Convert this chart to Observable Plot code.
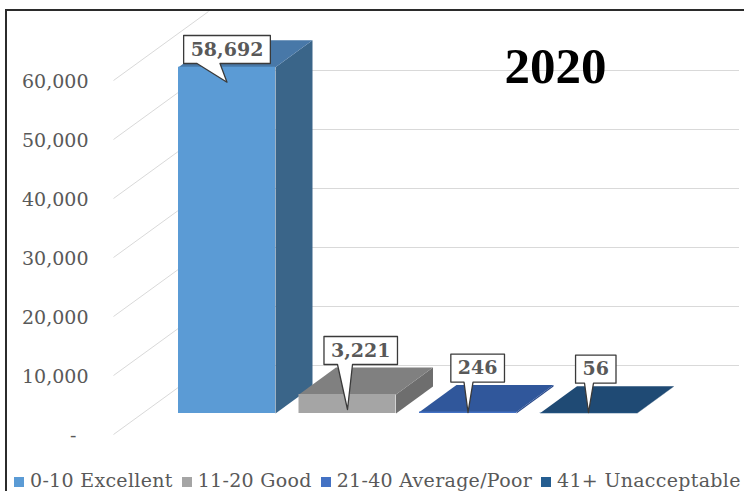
<!DOCTYPE html>
<html><head><meta charset="utf-8">
<script src="https://cdn.jsdelivr.net/npm/d3@7"></script>
<script src="https://cdn.jsdelivr.net/npm/@observablehq/plot@0.6"></script>
<style>
html,body{margin:0;padding:0;background:#fff;overflow:hidden;}
#wrap{position:relative;width:744px;height:491px;overflow:hidden;background:#fff;}
#chart{position:absolute;left:0;top:0;}
#border{position:absolute;left:5px;top:9px;width:800px;height:600px;border-left:2px solid #2b2b2b;border-top:2px solid #2b2b2b;pointer-events:none;}
#legend{position:absolute;left:14px;top:470px;display:flex;align-items:center;font-family:"DejaVu Serif";font-size:19px;line-height:20px;letter-spacing:0.3px;color:#595959;white-space:nowrap;}
.item{display:flex;align-items:center;margin-right:9px;}
.sw{width:10px;height:10px;margin-right:6px;margin-top:3px;}
</style></head>
<body><div id="wrap"><div id="chart"></div><div id="legend"></div><div id="border"></div></div>
<script>
// ---- data ----
const categories = ["0-10 Excellent", "11-20 Good", "21-40 Average/Poor", "41+ Unacceptable"];
const values = [58692, 3221, 246, 56];
const labels = ["58,692", "3,221", "246", "56"];
const yTicks = [0, 10000, 20000, 30000, 40000, 50000, 60000];
const title = "2020";

// ---- styles ----
const frontColors = ["#5B9BD5", "#A5A5A5", "#4472C4", "#255E91"];
const topColors   = ["#4878A8", "#808080", "#30579B", "#1F4A74"];
const sideColors  = ["#3A6589", "#6E6E6E", "#29498A", "#193D60"];
const anchorFrac = [0.5, 0.32, 0.32, 0.32];
const tailBase = [[-30, -7], [-10, 5], [-4, 5], [-4, 5]];

// ---- geometry ----
const W = 744, H = 462;
const X0PX = 226.5, XSTEP = 120.5, BASEPX = 413, YMAX = 70000;
const ky = BASEPX / YMAX;
const xu = px => (px - X0PX) / XSTEP;
const yPx = v => BASEPX - v * ky;
const yu = px => (BASEPX - px) / ky;
const hw = 48.5 / XSTEP, dX = 37 / XSTEP, dY = 27 / ky;

const idx = categories.map((_, i) => i);
const fronts = idx.map(i => ({x1: i - hw, x2: i + hw, y1: 0, y2: values[i], fill: frontColors[i]}));
const sides = [], tops = [];
idx.forEach(i => {
  const v = values[i], a = i - hw, b = i + hw;
  [[b, 0], [b, v], [b + dX, v + dY], [b + dX, dY], [b, 0]]
    .forEach(([x, y]) => sides.push({id: "s" + i, x, y, fill: sideColors[i]}));
  [[a, v], [b, v], [b + dX, v + dY], [a + dX, v + dY], [a, v]]
    .forEach(([x, y]) => tops.push({id: "t" + i, x, y, fill: topColors[i]}));
});

const ctx = document.createElement("canvas").getContext("2d");
ctx.font = "bold 19px 'DejaVu Serif'";
const callPolys = [], callText = [];
idx.forEach(i => {
  const v = values[i];
  const w = ctx.measureText(labels[i]).width + 14, h = 28;
  const tipX = X0PX + XSTEP * i;
  const tipY = Math.min(yPx(v) + 15, BASEPX - 1);
  const backTop = yPx(v) - 27;
  const top = Math.max(backTop - 31, 35), bottom = top + h;
  const left = tipX - anchorFrac[i] * w, right = left + w;
  const [bl, br] = tailBase[i].map(d => tipX + d);
  [[left, top], [right, top], [right, bottom], [br, bottom], [tipX, tipY], [bl, bottom], [left, bottom], [left, top]]
    .forEach(([px, py]) => callPolys.push({id: i, x: xu(px), y: yu(py)}));
  callText.push({x: xu((left + right) / 2), y: yu((top + bottom) / 2), text: labels[i]});
});

const grid = yTicks.filter(v => v > 0);

const chart = Plot.plot({
  width: W, height: H,
  marginLeft: X0PX - 0.5 * XSTEP, marginRight: W - (X0PX + 3.5 * XSTEP),
  marginTop: 0, marginBottom: H - BASEPX,
  x: {domain: [-0.5, 3.5], axis: null},
  y: {domain: [0, YMAX]},
  color: {type: "identity"},
  style: {fontFamily: "DejaVu Serif", background: "transparent", overflow: "visible"},
  marks: [
    Plot.link(yTicks, {x1: xu(113), x2: xu(113 + 95), y1: d => d, y2: d => d + 69 / ky, dy: 21, stroke: "#d9d9d9", strokeWidth: 1}),
    Plot.ruleY(grid, {x1: xu(215), x2: xu(739), dy: 11, stroke: "#d9d9d9", strokeWidth: 1.2}),
    Plot.axisY(yTicks, {anchor: "left", tickSize: 0, tickPadding: 0, dx: 88 - (X0PX - 0.5 * XSTEP), dy: 22,
      tickFormat: d => d === 0 ? "-\u2007" : d3.format(",")(d), fontSize: 19, fill: "#595959", label: null,
      style: "letter-spacing:1px"}),
    Plot.line(sides, {x: "x", y: "y", z: "id", fill: "fill", stroke: null}),
    Plot.line(tops, {x: "x", y: "y", z: "id", fill: "fill", stroke: null}),
    Plot.rect(fronts, {x1: "x1", x2: "x2", y1: "y1", y2: "y2", fill: "fill"}),
    Plot.line(callPolys, {x: "x", y: "y", z: "id", fill: "white", stroke: "#3a3a3a", strokeWidth: 1.3}),
    Plot.text(callText, {x: "x", y: "y", text: "text", fontSize: 19, fontWeight: "bold", fill: "#595959", lineAnchor: "middle"}),
    Plot.text([title], {x: xu(555), y: yu(66), text: d => d, fontFamily: "Liberation Serif", fontWeight: "bold", fontSize: 51, fill: "#000", lineAnchor: "middle"})
  ]
});
document.getElementById("chart").appendChild(chart);

const legend = document.getElementById("legend");
categories.forEach((c, i) => {
  const it = document.createElement("div"); it.className = "item";
  const sw = document.createElement("div"); sw.className = "sw"; sw.style.background = frontColors[i];
  const tx = document.createElement("span"); tx.textContent = c;
  it.appendChild(sw); it.appendChild(tx); legend.appendChild(it);
});
</script>
</body></html>
